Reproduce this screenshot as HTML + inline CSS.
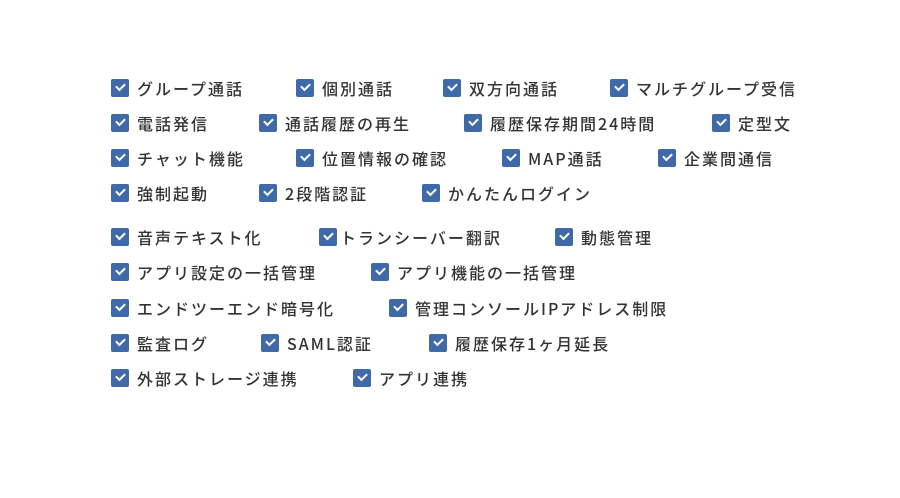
<!DOCTYPE html>
<html><head><meta charset="utf-8"><style>
body{margin:0;width:900px;height:498px;background:#fff;position:relative;overflow:hidden;font-family:"Noto Sans CJK JP","Liberation Sans",sans-serif;}
.i{position:absolute;height:20px;display:flex;align-items:center;white-space:nowrap;font-size:16px;letter-spacing:2px;color:#333;font-weight:500}
.b{width:18px;height:18px;background:#3f69a9;border-radius:2px;margin-right:8px;position:relative;flex:none}
.b:after{content:"";position:absolute;left:5px;top:4px;width:7px;height:4px;border-left:2px solid #fff;border-bottom:2px solid #fff;transform:rotate(-45deg)}
</style></head><body>
<div class="i" style="left:111px;top:78px"><span class="b"></span>グループ通話</div>
<div class="i" style="left:296px;top:78px"><span class="b"></span>個別通話</div>
<div class="i" style="left:443px;top:78px"><span class="b"></span>双方向通話</div>
<div class="i" style="left:610px;top:78px"><span class="b"></span>マルチグループ受信</div>

<div class="i" style="left:111px;top:113px"><span class="b"></span>電話発信</div>
<div class="i" style="left:259px;top:113px"><span class="b"></span>通話履歴の再生</div>
<div class="i" style="left:464px;top:113px"><span class="b"></span>履歴保存期間24時間</div>
<div class="i" style="left:712px;top:113px"><span class="b"></span>定型文</div>

<div class="i" style="left:111px;top:148px"><span class="b"></span>チャット機能</div>
<div class="i" style="left:296px;top:148px"><span class="b"></span>位置情報の確認</div>
<div class="i" style="left:502px;top:148px"><span class="b"></span>MAP通話</div>
<div class="i" style="left:658px;top:148px"><span class="b"></span>企業間通信</div>

<div class="i" style="left:111px;top:183px"><span class="b"></span>強制起動</div>
<div class="i" style="left:259px;top:183px"><span class="b"></span>2段階認証</div>
<div class="i" style="left:422px;top:183px"><span class="b"></span>かんたんログイン</div>

<div class="i" style="left:111px;top:227px"><span class="b"></span>音声テキスト化</div>
<div class="i" style="left:319px;top:227px"><span class="b" style="margin-right:3px"></span>トランシーバー翻訳</div>
<div class="i" style="left:555px;top:227px"><span class="b"></span>動態管理</div>

<div class="i" style="left:111px;top:262px"><span class="b"></span>アプリ設定の一括管理</div>
<div class="i" style="left:371px;top:262px"><span class="b"></span>アプリ機能の一括管理</div>

<div class="i" style="left:111px;top:298px"><span class="b"></span>エンドツーエンド暗号化</div>
<div class="i" style="left:389px;top:298px"><span class="b"></span>管理コンソールIPアドレス制限</div>

<div class="i" style="left:111px;top:333px"><span class="b"></span>監査ログ</div>
<div class="i" style="left:261px;top:333px"><span class="b"></span>SAML認証</div>
<div class="i" style="left:429px;top:333px"><span class="b"></span>履歴保存1ヶ月延長</div>

<div class="i" style="left:111px;top:368px"><span class="b"></span>外部ストレージ連携</div>
<div class="i" style="left:353px;top:368px"><span class="b"></span>アプリ連携</div>
</body></html>
